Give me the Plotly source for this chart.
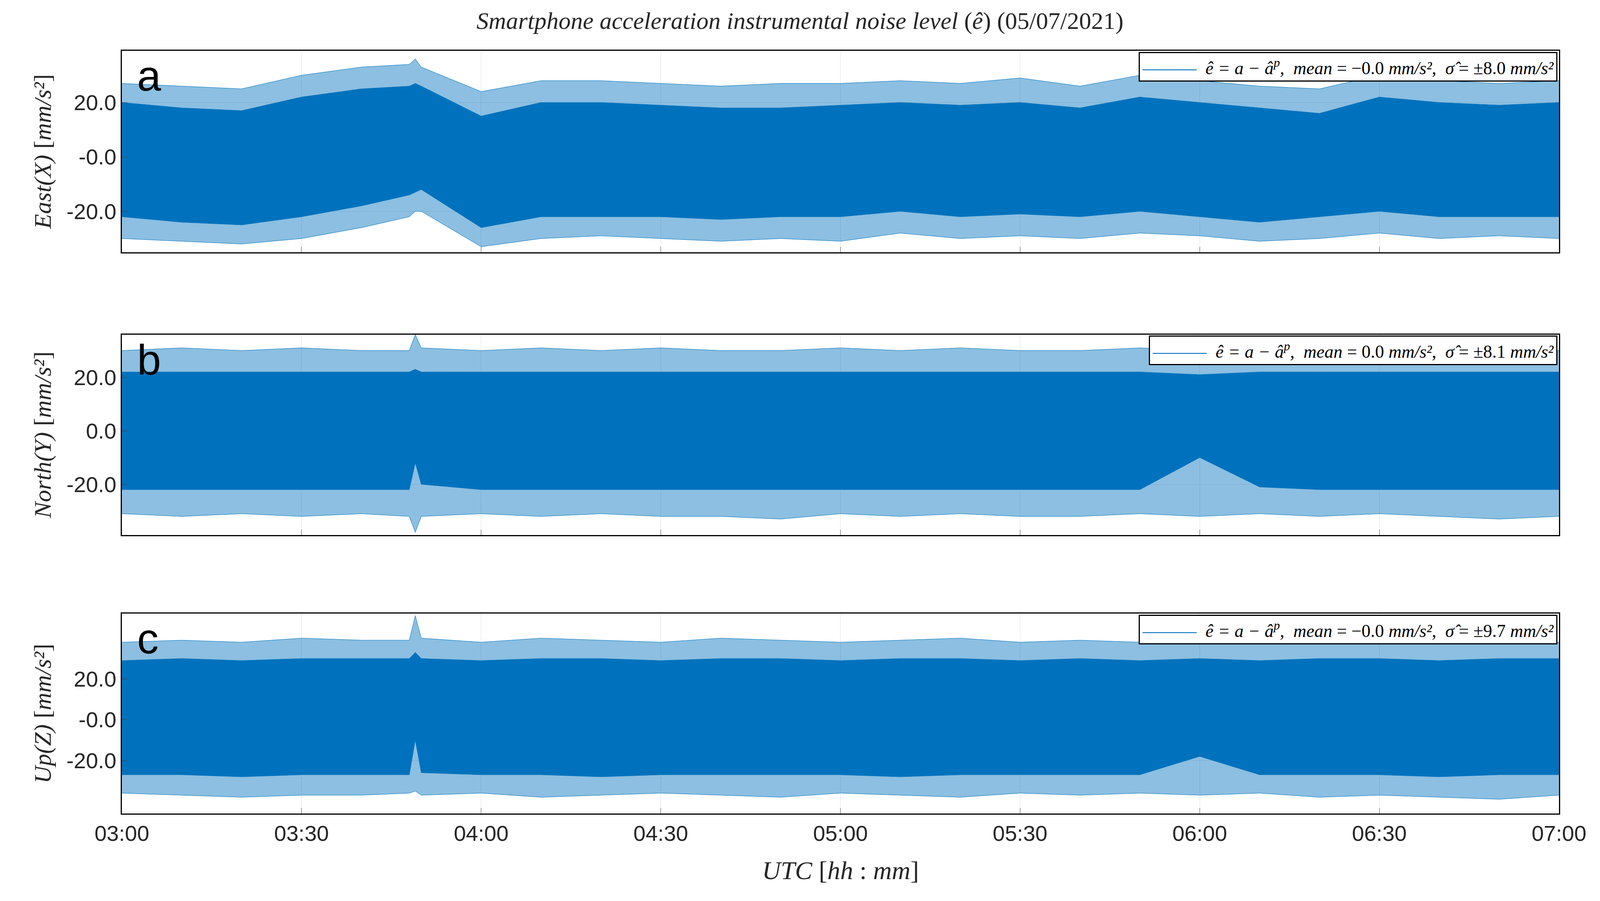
import plotly.graph_objects as go

times = ["03:00","03:10","03:20","03:30","03:40","03:48","03:49","03:50","04:00","04:10","04:20","04:30","04:40",
         "04:50","05:00","05:10","05:20","05:30","05:40","05:50","06:00","06:10","06:20","06:30","06:40","06:50","07:00"]
a_up   = [20,18,17,22,25,26,27,26,15,20,20,19,18,18,19,20,19,20,18,22,20,18,16,22,20,19,20]
a_lo   = [-22,-24,-25,-22,-18,-14,-13,-12,-26,-22,-22,-22,-23,-22,-22,-20,-22,-21,-22,-20,-22,-24,-22,-20,-22,-22,-22]
a_pkup = [27,26,25,30,33,34,36,33,24,28,28,27,26,27,27,28,27,29,26,30,28,26,25,30,28,27,28]
a_pklo = [-30,-31,-32,-30,-26,-22,-20,-20,-33,-30,-29,-30,-31,-30,-31,-28,-30,-29,-30,-28,-29,-31,-30,-28,-30,-29,-30]
b_up   = [22,22,22,22,22,22,23,22,22,22,22,22,22,22,22,22,22,22,22,22,21,22,22,22,22,22,22]
b_lo   = [-22,-22,-22,-22,-22,-22,-12,-20,-22,-22,-22,-22,-22,-22,-22,-22,-22,-22,-22,-22,-10,-21,-22,-22,-22,-22,-22]
b_pkup = [30,31,30,31,30,30,36,31,30,31,30,31,30,30,31,30,31,30,30,31,30,30,31,30,31,30,30]
b_pklo = [-31,-32,-31,-32,-31,-32,-38,-32,-31,-32,-31,-32,-32,-33,-31,-32,-31,-32,-32,-31,-32,-31,-32,-31,-32,-33,-32]
c_up   = [29,30,29,30,30,30,33,30,29,30,30,29,30,30,29,30,30,29,30,29,30,29,30,30,29,30,30]
c_lo   = [-27,-27,-28,-27,-27,-27,-10,-26,-27,-27,-28,-27,-27,-27,-27,-28,-27,-27,-27,-27,-18,-27,-27,-27,-28,-27,-27]
c_pkup = [38,39,38,40,39,39,51,40,38,40,39,38,40,39,38,39,40,38,39,38,39,38,40,39,38,40,38]
c_pklo = [-36,-37,-38,-37,-37,-36,-35,-37,-36,-38,-37,-36,-37,-38,-36,-37,-38,-36,-37,-36,-37,-36,-38,-37,-38,-39,-37]

x = ["2021-07-05 " + t for t in times]
xticks = ["03:00","03:30","04:00","04:30","05:00","05:30","06:00","06:30","07:00"]
panels = [
    (a_up, a_lo, a_pkup, a_pklo, "East(X)", [-20, 0, 20], ["-20.0", "-0.0", "20.0"], [-35, 39], "a", "−0.0", "±8.0"),
    (b_up, b_lo, b_pkup, b_pklo, "North(Y)", [-20, 0, 20], ["-20.0", "0.0", "20.0"], [-39, 36], "b", "0.0", "±8.1"),
    (c_up, c_lo, c_pkup, c_pklo, "Up(Z)", [-20, 0, 20], ["-20.0", "-0.0", "20.0"], [-46, 52], "c", "−0.0", "±9.7"),
]
domains = [[0.736, 1.0], [0.365, 0.628], [0.0, 0.262]]
col = "#0072BD"
fig = go.Figure()
serif = "Liberation Serif"
for i, (up, lo, pu, pl, name, tv, tt, rng, lab, mean, sig) in enumerate(panels):
    ax = "" if i == 0 else str(i + 1)
    xa, ya = "x" + ax, "y" + ax
    fig.add_trace(go.Scatter(x=x, y=pl, mode="lines", line=dict(color=col, width=1), xaxis=xa, yaxis=ya, showlegend=False))
    fig.add_trace(go.Scatter(x=x, y=pu, mode="lines", line=dict(color=col, width=1), fill="tonexty",
                             fillcolor="rgba(0,114,189,0.45)", xaxis=xa, yaxis=ya, showlegend=False))
    fig.add_trace(go.Scatter(x=x, y=lo, mode="lines", line=dict(color=col, width=1), xaxis=xa, yaxis=ya, showlegend=False))
    fig.add_trace(go.Scatter(x=x, y=up, mode="lines", line=dict(color=col, width=1), fill="tonexty",
                             fillcolor=col, xaxis=xa, yaxis=ya, showlegend=False))
    fig.layout["xaxis" + ax] = dict(domain=[0, 1], anchor=ya, range=["2021-07-05 03:00", "2021-07-05 07:00"],
        tickvals=["2021-07-05 " + t for t in xticks], ticktext=xticks, showticklabels=(i == 2),
        showline=True, linecolor="black", linewidth=3, mirror=True, ticks="inside", ticklen=14,
        showgrid=True, gridcolor="rgba(0,0,0,0.12)", tickfont=dict(size=56, family="Liberation Sans", color="#262626"))
    fig.layout["yaxis" + ax] = dict(domain=domains[i], anchor=xa, range=rng, tickvals=tv, ticktext=tt,
        showline=True, linecolor="black", linewidth=3, mirror=True, ticks="inside", ticklen=14,
        showgrid=True, gridcolor="rgba(0,0,0,0.12)", zeroline=False,
        tickfont=dict(size=56, family="Liberation Sans", color="#262626"),
        title=dict(text="<i>" + name + "</i> [<i>mm/s²</i>]", font=dict(size=62, family=serif, color="#262626"), standoff=20))
    yref = ya + " domain"
    fig.add_annotation(xref=xa + " domain", yref=yref, x=0.01, y=1.0, xanchor="left", yanchor="top",
                       text=lab, showarrow=False, font=dict(size=110, family="Liberation Sans", color="black"))
    fig.add_annotation(xref=xa + " domain", yref=yref, x=0.999, y=0.995, xanchor="right", yanchor="top",
        text="<span style='color:#0072BD'>———</span>  <i>ê = a − â<sup>p</sup>,  mean</i> = " + mean +
             " <i>mm/s²</i>,  <i>σ̂</i> = " + sig + " <i>mm/s²</i>",
        showarrow=False, bgcolor="white", bordercolor="black", borderwidth=3, borderpad=6,
        font=dict(size=46, family=serif, color="black"))

fig.update_layout(autosize=True, plot_bgcolor="white", paper_bgcolor="white",
    margin=dict(l=304, r=97, t=122, b=216),
    title=dict(text="<i>Smartphone acceleration instrumental noise level</i> (<i>ê</i>) (05/07/2021)",
               x=0.5, xanchor="center", y=0.99, yanchor="top", font=dict(size=62, family=serif, color="#262626")))
fig.add_annotation(xref="paper", yref="paper", x=0.5, y=-0.055, xanchor="center", yanchor="top", showarrow=False,
                   text="<i>UTC</i> [<i>hh</i> : <i>mm</i>]", font=dict(size=66, family=serif, color="#262626"))
fig.write_html("out.html", default_width="100%", default_height="100%",
               config={"responsive": True})
